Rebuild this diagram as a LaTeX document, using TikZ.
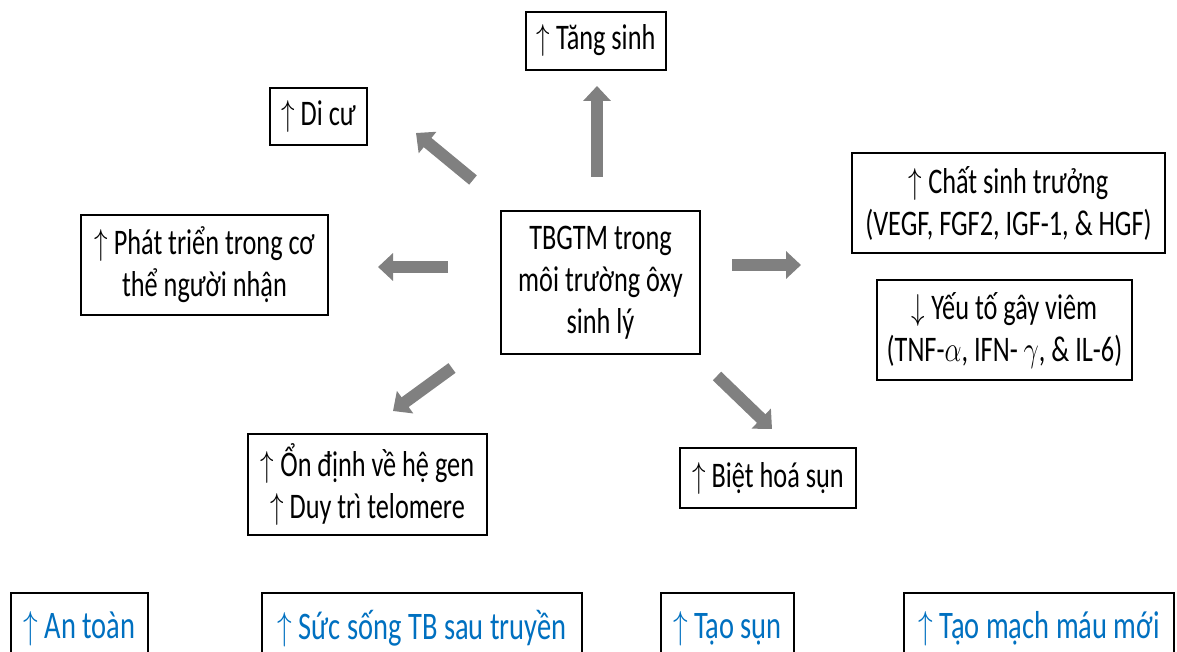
\documentclass[tikz,border=0pt]{standalone}
\usepackage{fix-cm}
\usepackage{graphicx}
\usepackage{fontspec}
\setmainfont{Carlito}[FakeStretch=0.73]
\usetikzlibrary{arrows.meta}
\definecolor{ablue}{RGB}{0,112,192}
\newcommand{\narrowmath}[1]{\scalebox{0.75}[1]{$#1$}}

\begin{document}
\begin{tikzpicture}[x=1pt,y=-1pt,
	box/.style={draw=black,line width=1.2pt,inner sep=0pt,align=center,font=\fontsize{36}{42}\selectfont},
	bluebox/.style={box,text=ablue,font=\fontsize{39}{46}\selectfont},
	bigarrow/.style={draw=gray,line width=12pt,-{Triangle[width=27pt,length=15pt]}}]
	\useasboundingbox (0,0) rectangle (1177,652);

	% centre and the boxes round it
	\node[box,minimum width=199pt,minimum height=143pt] (tbgtm) at (600.5,282.5) {TBGTM trong\\môi trường ôxy\\sinh lý};
	\node[box,minimum width=140pt,minimum height=58pt] (tangsinh) at (596,41) {\narrowmath{\uparrow} Tăng sinh};
	\node[box,minimum width=97pt,minimum height=57pt] (dicu) at (318.5,116.5) {\narrowmath{\uparrow} Di cư};
	\node[box,minimum width=247pt,minimum height=100pt] (phattrien) at (204.5,265) {\narrowmath{\uparrow} Phát triển trong cơ\\thể người nhận};
	\node[box,minimum width=239pt,minimum height=101pt] (ondinh) at (367.5,484.5) {\narrowmath{\uparrow} Ổn định về hệ gen\\\narrowmath{\uparrow} Duy trì telomere};
	\node[box,minimum width=176pt,minimum height=60pt] (biethoa) at (768,478) {\narrowmath{\uparrow} Biệt hoá sụn};
	\node[box,minimum width=313pt,minimum height=100pt] (chatsinh) at (1008.5,203) {\narrowmath{\uparrow} Chất sinh trưởng\\(VEGF, FGF2, IGF-1, \& HGF)};
	\node[box,minimum width=255pt,minimum height=100pt] (gayviem) at (1004.5,330) {\narrowmath{\downarrow} Yếu tố gây viêm\\(TNF-\narrowmath{\alpha}, IFN- \narrowmath{\gamma}, \& IL-6)};

	% bottom row
	\node[bluebox,minimum width=137pt,minimum height=72pt] (antoan) at (79.5,629) {\narrowmath{\uparrow} An toàn};
	\node[bluebox,minimum width=320pt,minimum height=72pt] (sucsong) at (422,629) {\narrowmath{\uparrow} Sức sống TB sau truyền};
	\node[bluebox,minimum width=133pt,minimum height=72pt] (taosun) at (727.5,629) {\narrowmath{\uparrow} Tạo sụn};
	\node[bluebox,minimum width=270pt,minimum height=72pt] (taomach) at (1039,629) {\narrowmath{\uparrow} Tạo mạch máu mới};

	% block arrows
	\coordinate (upS) at (597,177);   \coordinate (upE) at (597,86);
	\coordinate (nwS) at (473,180);   \coordinate (nwE) at (416,133);
	\coordinate (leftS) at (448,267); \coordinate (leftE) at (378,267);
	\coordinate (rightS) at (732,265);\coordinate (rightE) at (801,265);
	\coordinate (swS) at (452,368);   \coordinate (swE) at (393,411);
	\coordinate (seS) at (717,376);   \coordinate (seE) at (772,429);
	\foreach \a in {up,nw,left,right,sw,se}
		\draw[bigarrow] (\a S) -- (\a E);
\end{tikzpicture}
\end{document}
